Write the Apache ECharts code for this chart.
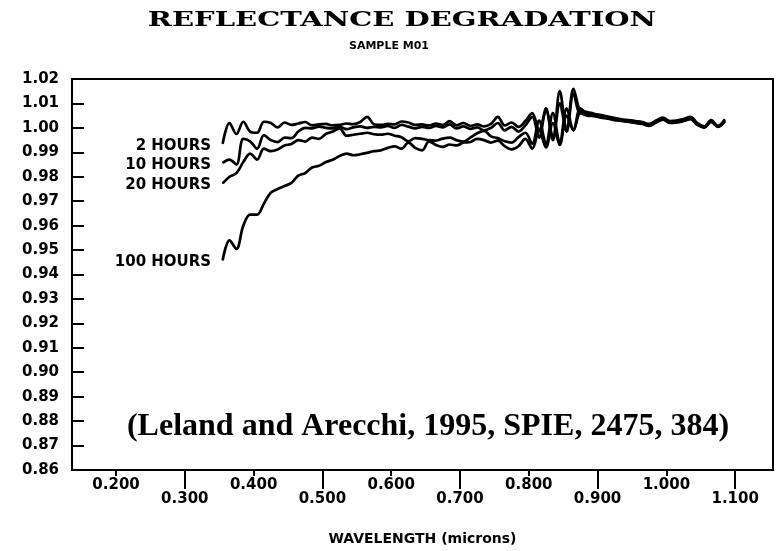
<!DOCTYPE html>
<html>
<head>
<meta charset="utf-8">
<script src="https://cdn.jsdelivr.net/npm/echarts@6/dist/echarts.min.js"></script>
<style>
  html, body { margin: 0; padding: 0; background: #fff; }
  #chart { width: 779px; height: 551px; }
</style>
</head>
<body>
<div id="chart"></div>
<script>
// wavelength in microns, shared by all four curves
const wavelength = [
  0.355, 0.365, 0.375, 0.385, 0.395, 0.405, 0.415, 0.425, 0.435, 0.445,
  0.455, 0.465, 0.475, 0.485, 0.495, 0.505, 0.515, 0.525, 0.535, 0.545,
  0.555, 0.565, 0.575, 0.585, 0.595, 0.605, 0.615, 0.625, 0.635, 0.645,
  0.655, 0.665, 0.675, 0.685, 0.695, 0.705, 0.715, 0.725, 0.735, 0.745,
  0.755, 0.765, 0.775, 0.785, 0.795, 0.805, 0.815, 0.825, 0.835, 0.845,
  0.855, 0.865, 0.875, 0.885, 0.895, 0.905, 0.915, 0.925, 0.935, 0.945,
  0.955, 0.965, 0.975, 0.985, 0.995, 1.005, 1.015, 1.025, 1.035, 1.045,
  1.055, 1.065, 1.075, 1.085
]
const hours2 = [
  0.9935, 1.0020, 0.9975, 1.0025, 0.9985, 0.9980, 1.0025, 1.0020, 1.0002, 1.0022,
  1.0012, 1.0018, 1.0024, 1.0010, 1.0014, 1.0016, 1.0010, 1.0012, 1.0018, 1.0015,
  1.0024, 1.0045, 1.0015, 1.0012, 1.0016, 1.0014, 1.0026, 1.0022, 1.0012, 1.0014,
  1.0010, 1.0018, 1.0012, 1.0028, 1.0010, 1.0020, 1.0008, 1.0014, 1.0006, 1.0016,
  1.0045, 1.0010, 1.0022, 1.0004, 1.0028, 1.0060, 0.9990, 1.0070, 0.9960, 1.0150,
  0.9990, 1.0160, 1.0070, 1.0065, 1.0058, 1.0052, 1.0046, 1.0040, 1.0035, 1.0032,
  1.0028, 1.0024, 1.0016, 1.0030, 1.0042, 1.0028, 1.0030, 1.0036, 1.0045, 1.0020,
  1.0006, 1.0032, 1.0008, 1.0035
]
const hours10 = [
  0.9857, 0.9870, 0.9850, 0.9955, 0.9945, 0.9915, 0.9970, 0.9950, 0.9942, 0.9960,
  0.9958, 0.9985, 1.0000, 0.9998, 1.0005, 1.0000, 0.9998, 1.0004, 0.9995, 1.0002,
  1.0006, 1.0000, 1.0004, 1.0002, 1.0008, 1.0000, 1.0012, 1.0005, 0.9998, 1.0004,
  1.0000, 1.0008, 1.0002, 1.0014, 0.9998, 1.0006, 0.9996, 1.0002, 0.9990, 1.0000,
  1.0020, 0.9990, 1.0004, 0.9985, 1.0010, 1.0045, 0.9960, 1.0080, 0.9950, 1.0100,
  0.9985, 1.0140, 1.0060, 1.0060, 1.0052, 1.0048, 1.0042, 1.0036, 1.0032, 1.0028,
  1.0024, 1.0020, 1.0012, 1.0026, 1.0038, 1.0024, 1.0026, 1.0032, 1.0040, 1.0016,
  1.0002, 1.0028, 1.0004, 1.0030
]
const hours20 = [
  0.9773, 0.9800, 0.9815, 0.9860, 0.9895, 0.9870, 0.9915, 0.9905, 0.9912, 0.9928,
  0.9934, 0.9950, 0.9944, 0.9960, 0.9955, 0.9975, 0.9985, 0.9998, 0.9968, 0.9972,
  0.9976, 0.9980, 0.9974, 0.9972, 0.9976, 0.9968, 0.9962, 0.9945, 0.9958, 0.9955,
  0.9950, 0.9948, 0.9956, 0.9960, 0.9950, 0.9944, 0.9960, 0.9978, 0.9988, 0.9965,
  0.9958, 0.9945, 0.9940, 0.9962, 0.9980, 0.9935, 1.0030, 0.9935, 1.0060, 0.9940,
  1.0080, 0.9990, 1.0080, 1.0056, 1.0050, 1.0046, 1.0040, 1.0034, 1.0030, 1.0026,
  1.0022, 1.0018, 1.0010, 1.0024, 1.0036, 1.0022, 1.0024, 1.0030, 1.0038, 1.0014,
  1.0004, 1.0026, 1.0006, 1.0028
]
const hours100 = [
  0.9458, 0.9540, 0.9505, 0.9600, 0.9645, 0.9645, 0.9690, 0.9735, 0.9750, 0.9762,
  0.9775, 0.9805, 0.9815, 0.9838, 0.9845, 0.9860, 0.9870, 0.9885, 0.9895, 0.9888,
  0.9892, 0.9898, 0.9905, 0.9908, 0.9918, 0.9924, 0.9915, 0.9940, 0.9918, 0.9908,
  0.9945, 0.9930, 0.9922, 0.9932, 0.9928, 0.9940, 0.9942, 0.9955, 0.9950, 0.9940,
  0.9948, 0.9925, 0.9912, 0.9925, 0.9955, 0.9915, 0.9990, 0.9920, 1.0020, 0.9930,
  1.0050, 0.9990, 1.0060, 1.0050, 1.0048, 1.0042, 1.0038, 1.0032, 1.0028, 1.0024,
  1.0020, 1.0016, 1.0008, 1.0022, 1.0034, 1.0020, 1.0022, 1.0028, 1.0036, 1.0012,
  1.0002, 1.0024, 1.0006, 1.0026
]
const seriesNames = ['2 HOURS', '10 HOURS', '20 HOURS', '100 HOURS']
const seriesValues = [hours2, hours10, hours20, hours100]
// bottom axis: short ticks with high labels, long ticks with low labels
const xTicksShort = [0.2, 0.4, 0.6, 0.8, 1.0]
const xTicksLong = [0.3, 0.5, 0.7, 0.9, 1.1]

const chart = echarts.init(document.getElementById('chart'), null, { renderer: 'canvas' })

const sans = 'DejaVu Sans'
const axisBase = {
  type: 'value',
  min: 0.136,
  max: 1.155,
  splitLine: { show: false }
}

function buildSeries (name, values) {
  const data = values.map(function (v, i) {
    return [wavelength[i], v]
  })
  return {
    name: name,
    type: 'line',
    data: data,
    smooth: 0.35,
    showSymbol: false,
    lineStyle: { color: '#000', width: 2.7 },
    silent: true,
    // the curve name sits left of its first point
    markPoint: {
      symbol: 'circle',
      symbolSize: 1,
      itemStyle: { color: '#000' },
      silent: true,
      data: [{
        coord: data[0],
        label: {
          show: true,
          position: 'left',
          distance: 11,
          offset: [0, 2],
          formatter: name,
          color: '#000',
          fontFamily: sans,
          fontWeight: 'bold',
          fontSize: 15
        }
      }]
    }
  }
}

const labelFont = {
  color: '#000',
  fontFamily: sans,
  fontWeight: 'bold',
  fontSize: 15
}

const option = {
  animation: false,
  backgroundColor: '#fff',
  grid: {
    left: 72,
    right: 6,
    top: 79,
    bottom: 75,
    show: true,
    borderColor: '#000',
    borderWidth: 2,
    backgroundColor: 'transparent'
  },
  xAxis: [
    Object.assign({}, axisBase, {
      position: 'bottom',
      axisLine: { show: true, lineStyle: { color: '#000', width: 2 } },
      axisTick: { show: true, customValues: xTicksShort, length: 6, lineStyle: { color: '#000', width: 2 } },
      axisLabel: Object.assign({
        customValues: xTicksShort,
        margin: 8,
        formatter: function (v) { return v.toFixed(3) }
      }, labelFont),
      name: 'WAVELENGTH (microns)',
      nameLocation: 'middle',
      nameGap: 62,
      nameTextStyle: { color: '#000', fontFamily: sans, fontWeight: 'bold', fontSize: 14 }
    }),
    Object.assign({}, axisBase, {
      position: 'bottom',
      axisLine: { show: false },
      axisTick: { show: true, customValues: xTicksLong, length: 19, lineStyle: { color: '#000', width: 2 } },
      axisLabel: Object.assign({
        customValues: xTicksLong,
        margin: 22,
        formatter: function (v) { return v.toFixed(3) }
      }, labelFont)
    })
  ],
  yAxis: {
    type: 'value',
    min: 0.86,
    max: 1.02,
    interval: 0.01,
    splitLine: { show: false },
    axisLine: { show: true, lineStyle: { color: '#000', width: 2 } },
    axisTick: { show: true, inside: true, length: 12, lineStyle: { color: '#000', width: 2 } },
    axisLabel: Object.assign({
      margin: 13,
      formatter: function (v) { return v.toFixed(2) }
    }, labelFont)
  },
  graphic: [
    {
      type: 'text',
      x: 402,
      y: 21,
      scaleX: 1.45,
      style: {
        text: 'REFLECTANCE DEGRADATION',
        font: 'bold 20px "DejaVu Serif"',
        fill: '#000',
        align: 'center',
        verticalAlign: 'middle',
        textAlign: 'center',
        textVerticalAlign: 'middle'
      }
    },
    {
      type: 'text',
      x: 389,
      y: 46,
      style: {
        text: 'SAMPLE M01',
        font: 'bold 11px "DejaVu Sans"',
        fill: '#000',
        align: 'center',
        verticalAlign: 'middle',
        textAlign: 'center',
        textVerticalAlign: 'middle'
      }
    },
    {
      type: 'text',
      x: 428,
      y: 427,
      style: {
        text: '(Leland and Arecchi, 1995, SPIE, 2475, 384)',
        font: 'bold 32px "Liberation Serif"',
        fill: '#000',
        align: 'center',
        verticalAlign: 'middle',
        textAlign: 'center',
        textVerticalAlign: 'middle'
      }
    }
  ],
  series: seriesNames.map(function (name, i) {
    return buildSeries(name, seriesValues[i])
  })
}

chart.setOption(option)
</script>
</body>
</html>
